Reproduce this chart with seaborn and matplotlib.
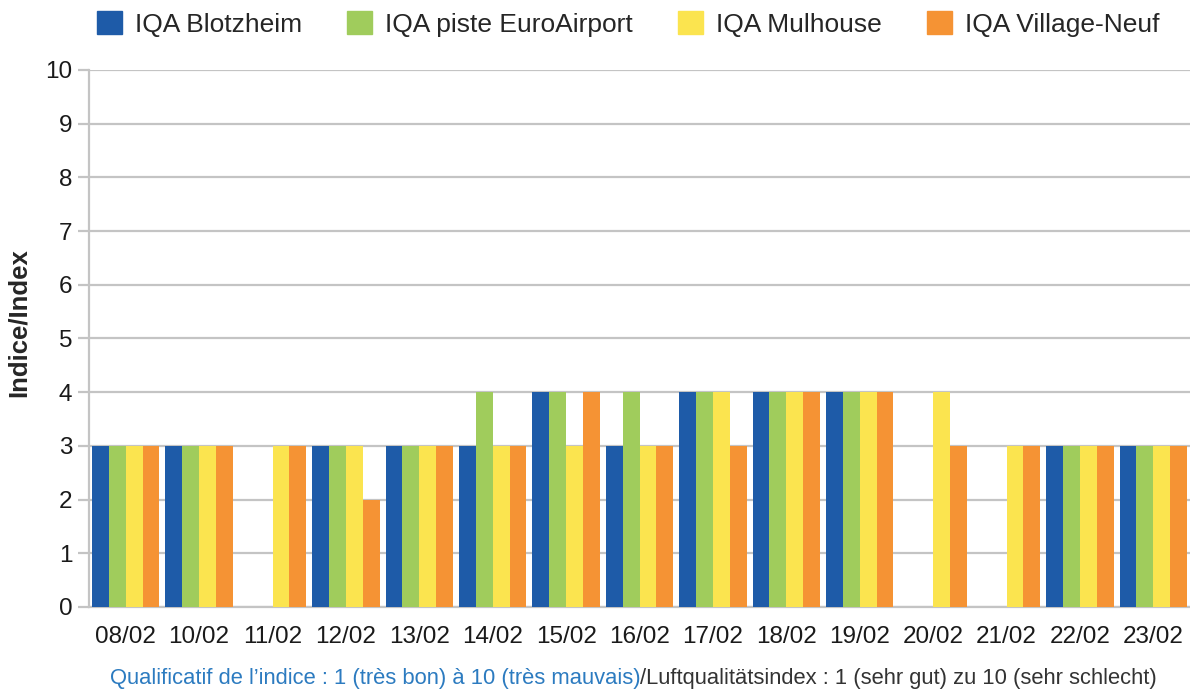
import pandas as pd
import numpy as np
import matplotlib
matplotlib.use("Agg")
import matplotlib.pyplot as plt
import seaborn as sns

# data
dates = ["08/02", "10/02", "11/02", "12/02", "13/02", "14/02", "15/02", "16/02",
         "17/02", "18/02", "19/02", "20/02", "21/02", "22/02", "23/02"]
stations = ["IQA Blotzheim", "IQA piste EuroAirport", "IQA Mulhouse", "IQA Village-Neuf"]
blotzheim = [3, 3, np.nan, 3, 3, 3, 4, 3, 4, 4, 4, np.nan, np.nan, 3, 3]
euroairport = [3, 3, np.nan, 3, 3, 4, 4, 4, 4, 4, 4, np.nan, np.nan, 3, 3]
mulhouse = [3, 3, 3, 3, 3, 3, 3, 3, 4, 4, 4, 4, 3, 3, 3]
village_neuf = [3, 3, 3, 2, 3, 3, 4, 3, 3, 4, 4, 3, 3, 3, 3]
colors = ["#1E5BA8", "#A0CC5C", "#FBE44F", "#F59334"]

df = pd.DataFrame({
    "date": dates * 4,
    "station": sum([[s] * len(dates) for s in stations], []),
    "value": blotzheim + euroairport + mulhouse + village_neuf,
})

sns.set_style("white")
plt.rcParams["font.family"] = ["Liberation Sans", "DejaVu Sans"]

fig = plt.figure(figsize=(11.9, 6.91), dpi=100)
ax = fig.add_axes([0.0748, 0.1216, 0.9252, 0.7771])

sns.barplot(data=df, x="date", y="value", hue="station", order=dates,
            hue_order=stations, palette=colors, errorbar=None,
            width=0.92, gap=0, saturation=1, linewidth=0, ax=ax, zorder=3)

grid_c = "#C4C4C4"
ax.set_ylim(0, 10)
ax.set_xlim(-0.5, len(dates) - 0.5)
ax.set_yticks(range(0, 11))
ax.yaxis.grid(True, color=grid_c, lw=1.6, zorder=0)
ax.set_axisbelow(True)
for s in ["top", "right"]:
    ax.spines[s].set_visible(False)
ax.spines["left"].set_color(grid_c)
ax.spines["left"].set_linewidth(1.6)
ax.spines["bottom"].set_color(grid_c)
ax.spines["bottom"].set_linewidth(1.6)

ax.set_xticks(np.arange(-0.5, len(dates), 1), minor=True)
ax.tick_params(axis="x", which="major", length=0, labelsize=17.5, pad=14,
               labelcolor="#1a1a1a")
ax.tick_params(axis="x", which="minor", length=8, width=1.6, color=grid_c)
ax.tick_params(axis="y", length=8, width=1.6, color=grid_c, labelsize=17.5,
               labelcolor="#1a1a1a", pad=4, left=True)
ax.set_xlabel("")
ax.set_ylabel("Indice/Index", fontsize=18.5, fontweight="bold")
ax.yaxis.set_label_coords(-0.053, 0.53)

ax.get_legend().remove()
handles = [plt.Rectangle((0, 0), 1, 1, color=c) for c in colors]
fig.legend(handles, stations, loc="upper center", ncol=4, frameon=False,
           bbox_to_anchor=(0.528, 1.018), fontsize=19, handlelength=0.95,
           handleheight=0.95, handletextpad=0.5, columnspacing=1.7)

fig.text(0.538, 0.003, "Qualificatif de l\u2019indice : 1 (très bon) à 10 (très mauvais)",
         ha="right", va="bottom", color="#2C7BC0", fontsize=15.8)
fig.text(0.538, 0.003, "/Luftqualitätsindex : 1 (sehr gut) zu 10 (sehr schlecht)",
         ha="left", va="bottom", color="#333333", fontsize=15.8)

fig.savefig("out.png", dpi=100)
